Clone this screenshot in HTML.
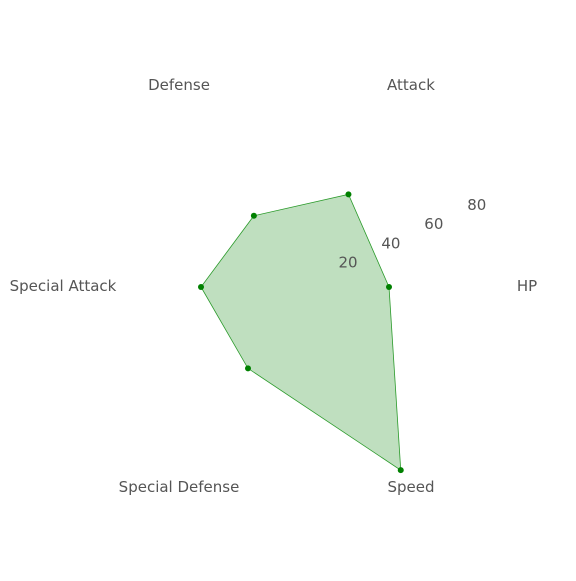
<!DOCTYPE html>
<html><head><meta charset="utf-8"><style>
body{margin:0;background:#fff}
svg text{font-family:"DejaVu Sans",sans-serif;font-size:15px;fill:#555}
</style></head><body>
<svg id="c" width="576" height="576"></svg>
<script>
const categories=["HP","Attack","Defense","Special Attack","Special Defense","Speed"];
const values=[40,45.5,35,40,40,90];
const ticks=[20,40,60,80];
const cx=295,cy=287,k=2.35,labelR=232;
const svg=document.getElementById('c');
const NS='http://www.w3.org/2000/svg';
function ang(i){return -i*Math.PI/3;}
function pt(i,v){const a=ang(i);return [cx+Math.cos(a)*v*k,cy+Math.sin(a)*v*k];}
const pts=values.map((v,i)=>pt(i,v));
const poly=document.createElementNS(NS,'polygon');
poly.setAttribute('points',pts.map(p=>p.join(',')).join(' '));
poly.setAttribute('fill','rgba(0,128,0,0.25)');
poly.setAttribute('stroke','#2a9a2a');
poly.setAttribute('stroke-width','0.8');


svg.appendChild(poly);
pts.forEach((p,i)=>{
const c=document.createElementNS(NS,'circle');
c.setAttribute('cx',p[0]);c.setAttribute('cy',p[1]);c.setAttribute('r',3);c.setAttribute('fill','green');


svg.appendChild(c);});
categories.forEach((n,i)=>{
const a=ang(i);
const t=document.createElementNS(NS,'text');
t.setAttribute('x',cx+Math.cos(a)*labelR);t.setAttribute('y',cy+Math.sin(a)*labelR+4);
t.setAttribute('text-anchor','middle');t.textContent=n;


svg.appendChild(t);});
const ta=24*Math.PI/180;
ticks.forEach(v=>{
const r=v*k+11;
const t=document.createElementNS(NS,'text');
t.setAttribute('x',cx+Math.cos(ta)*r);t.setAttribute('y',cy-Math.sin(ta)*r+4);
t.setAttribute('text-anchor','middle');t.textContent=v;


svg.appendChild(t);});
</script>
</body></html>
